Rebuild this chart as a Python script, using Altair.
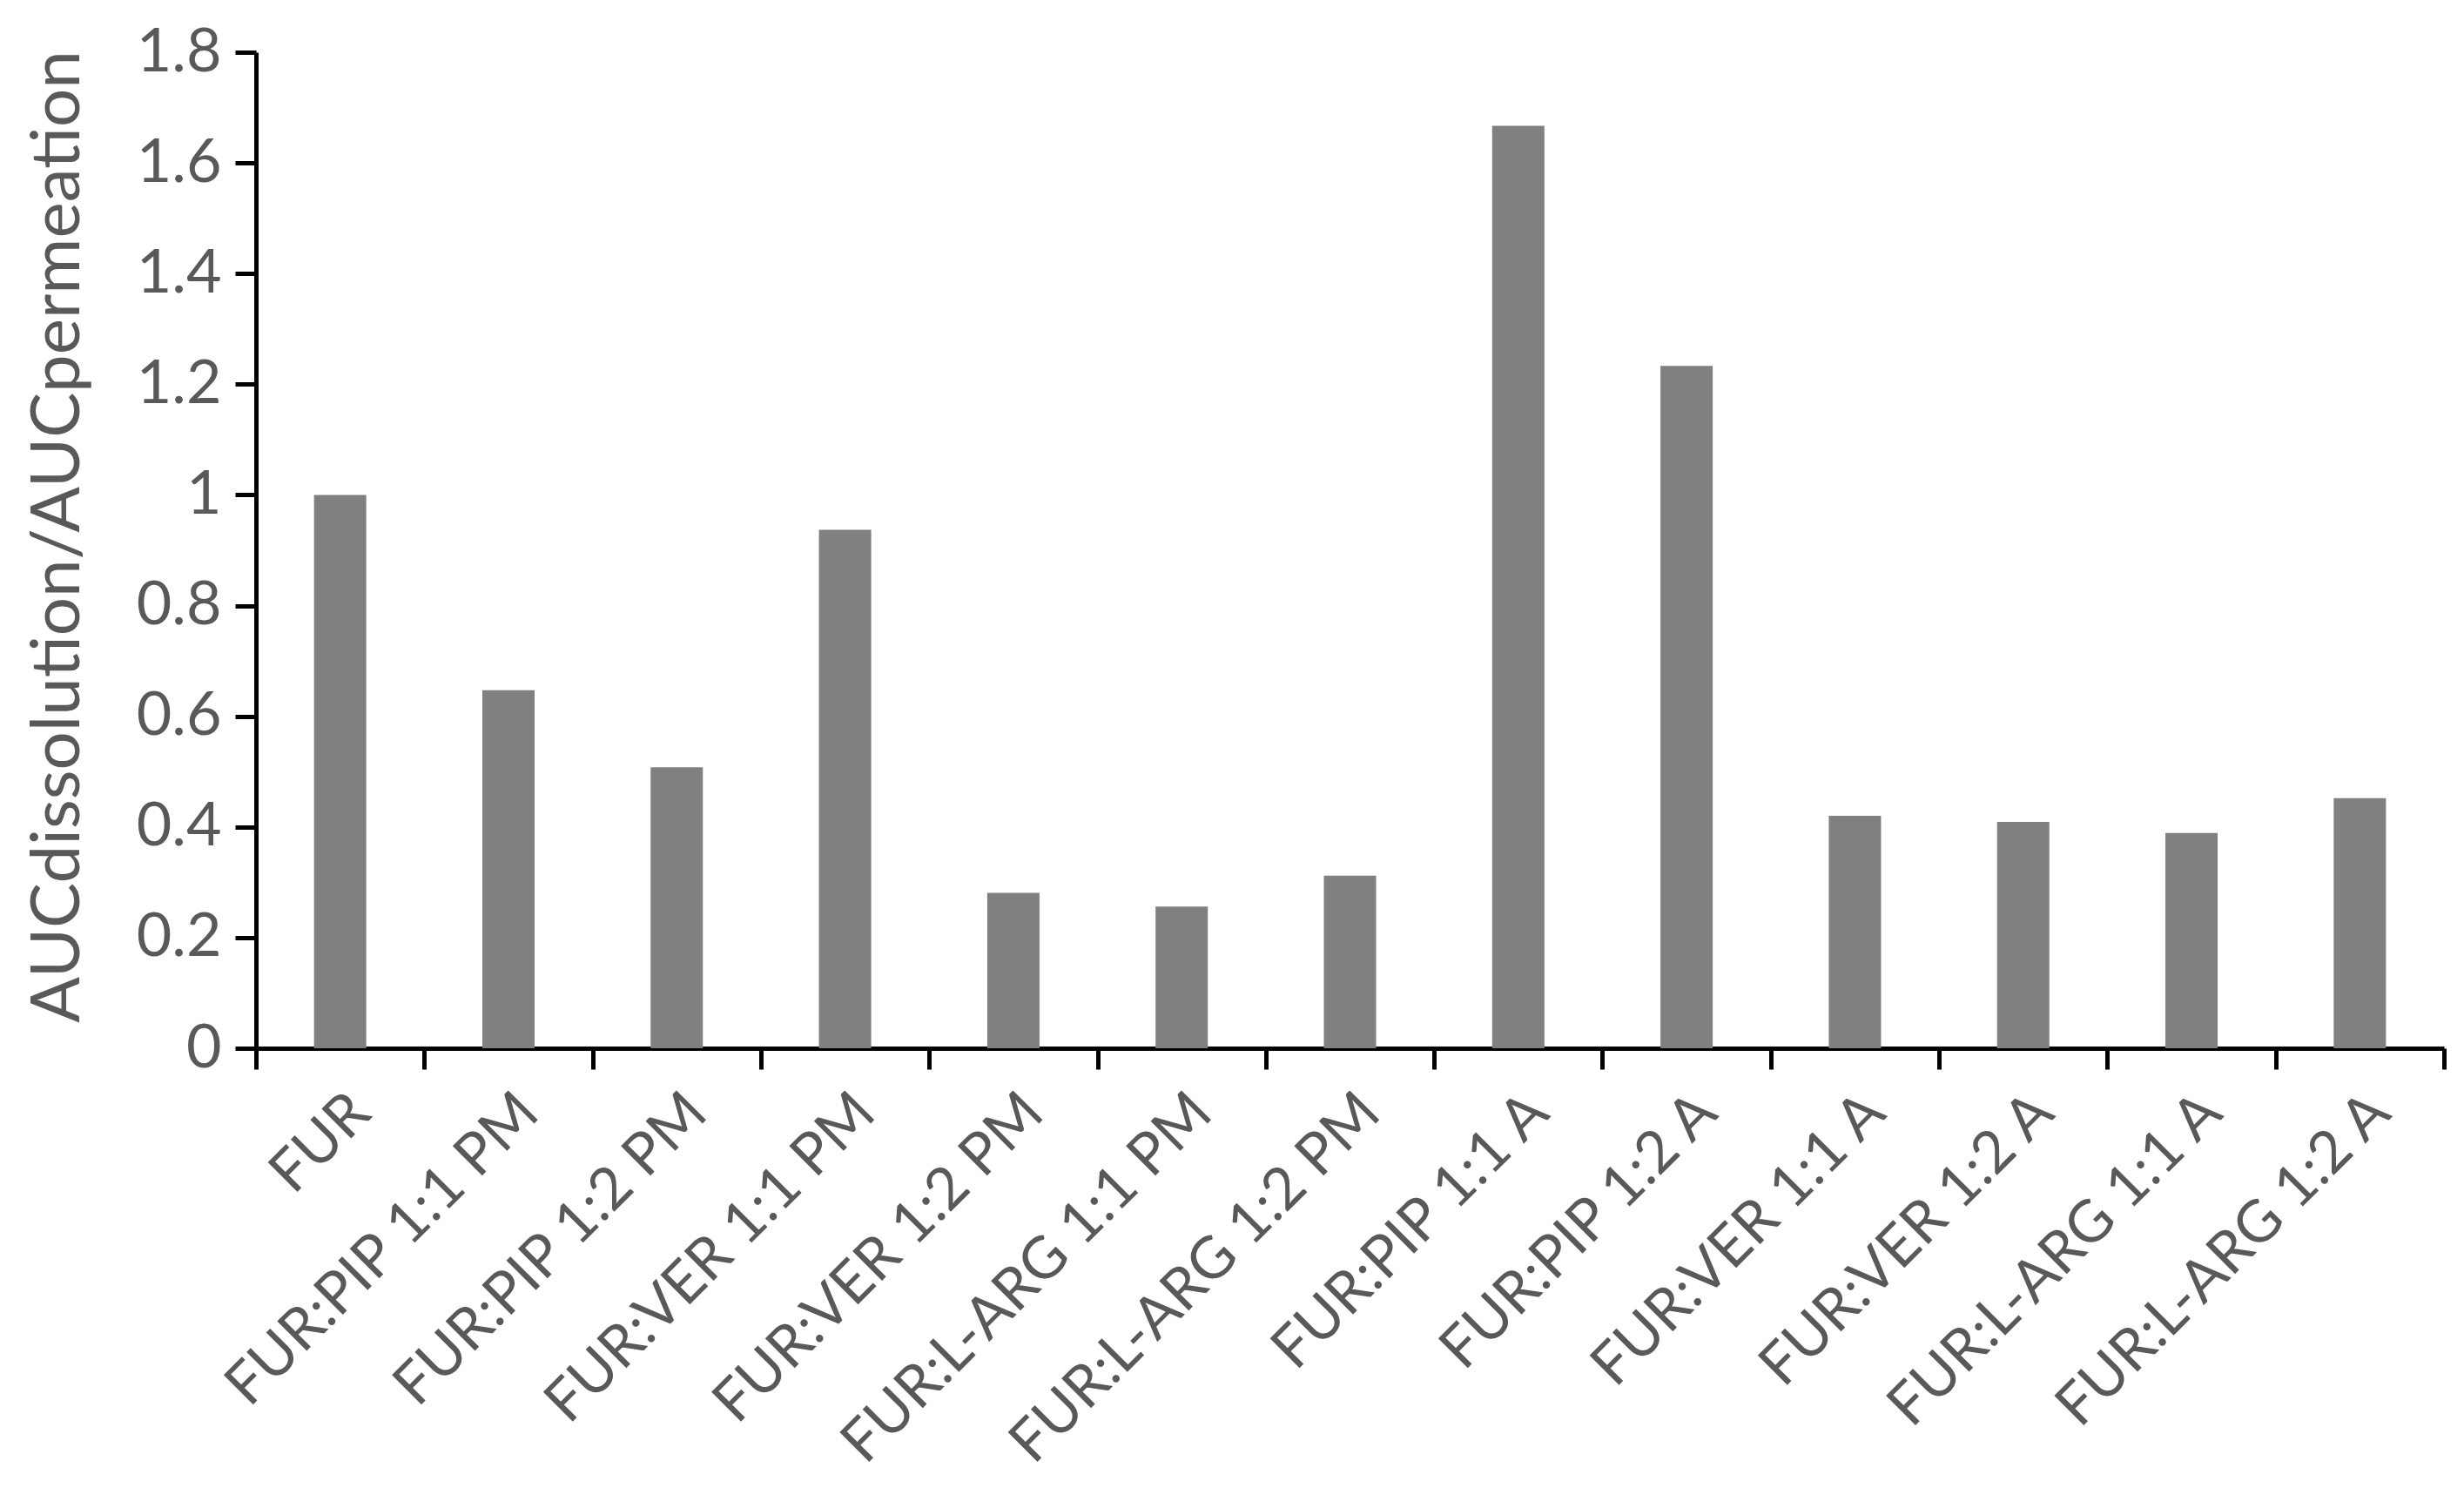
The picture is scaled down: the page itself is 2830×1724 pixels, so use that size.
import altair as alt
import pandas as pd

categories = ["FUR", "FUR:PIP 1:1 PM", "FUR:PIP 1:2 PM", "FUR:VER 1:1 PM", "FUR:VER 1:2 PM",
              "FUR:L-ARG 1:1 PM", "FUR:L-ARG 1:2 PM", "FUR:PIP 1:1 A", "FUR:PIP 1:2 A",
              "FUR:VER 1:1 A", "FUR:VER 1:2 A", "FUR:L-ARG 1:1 A", "FUR:L-ARG 1:2 A"]
values = [1.0, 0.647, 0.508, 0.937, 0.281, 0.256, 0.312, 1.667, 1.233, 0.42, 0.409, 0.389, 0.452]
y_ticks = [0, 0.2, 0.4, 0.6, 0.8, 1.0, 1.2, 1.4, 1.6, 1.8]
y_title = "AUCdissolution/AUCpermeation"

df = pd.DataFrame({"cat": categories, "val": values})

FONT = "Lato"
LABEL_COLOR = "#595959"

chart = alt.Chart(df).mark_bar(width=60, color="#808080").encode(
    x=alt.X("cat:N", sort=categories,
            scale=alt.Scale(paddingInner=0, paddingOuter=0),
            axis=alt.Axis(title=None, labelAngle=-45, tickBand="extent",
                          labelFont=FONT, labelFontSize=67, labelColor=LABEL_COLOR,
                          labelLimit=0, labelPadding=16,
                          tickSize=24, tickWidth=5, tickColor="black",
                          domainWidth=5, domainColor="black")),
    y=alt.Y("val:Q", scale=alt.Scale(domain=[0, 1.8], nice=False),
            axis=alt.Axis(title=y_title, values=y_ticks, format="~g", grid=False,
                          labelFont=FONT, labelFontSize=70, labelColor=LABEL_COLOR,
                          labelPadding=16,
                          tickSize=24, tickWidth=5, tickColor="black",
                          domainWidth=5, domainColor="black",
                          titleFont=FONT, titleFontSize=78, titleColor=LABEL_COLOR,
                          titleFontWeight="normal", titleX=-204, titleY=556,
                          titleAngle=270, titleAlign="center", titleBaseline="alphabetic"))
).properties(
    width=2513, height=1144,
    autosize=alt.AutoSizeParams(type="none"),
    padding={"left": 286, "top": 52, "right": 15, "bottom": 512}
).configure_view(stroke=None)

chart.save("out.html", embed_options={"renderer": "svg", "actions": False})
